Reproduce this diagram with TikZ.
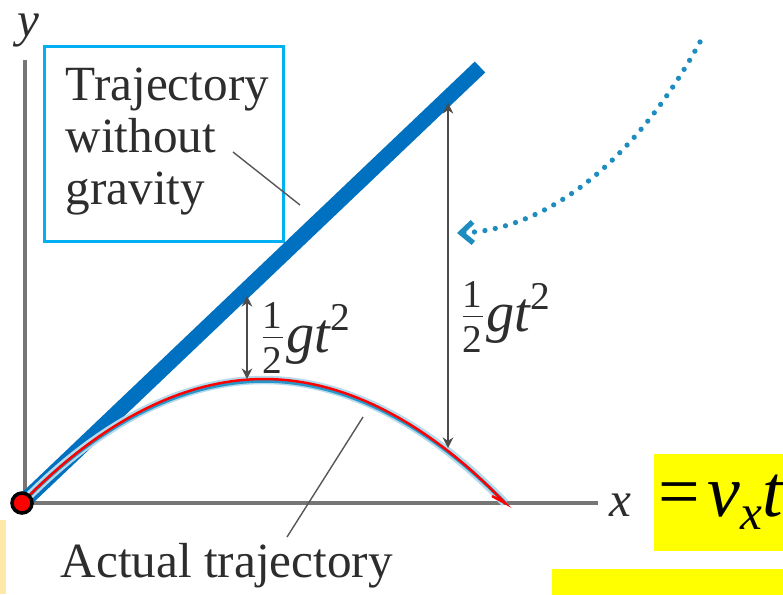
\documentclass[tikz,border=0pt]{standalone}
\usepackage{fontspec}
\setmainfont{Liberation Serif}
\usepackage{tikz}
\usetikzlibrary{positioning,arrows.meta}
\definecolor{cLine}{RGB}{0,112,192}
\definecolor{cBox}{RGB}{0,176,240}
\definecolor{cAxis}{RGB}{118,118,118}
\definecolor{cGlow}{RGB}{40,150,200}
\definecolor{cDot}{RGB}{30,140,190}
\definecolor{cText}{RGB}{45,45,45}
\definecolor{cHi}{RGB}{255,255,0}
\definecolor{cCream}{RGB}{255,232,170}
\newcommand{\halfgt}{\frac{\mathrm{1}}{\mathrm{2}}\mathit{g}\mathit{t}^{\mathrm{2}}}

\begin{document}
\begin{tikzpicture}[x=0.01cm,y=-0.01cm,font=\fontsize{14}{14.8}\selectfont,text=cText,
   axis/.style={draw=cAxis,line width=0.9pt},
   lead/.style={draw=cText!80,line width=0.4pt},
   dim/.style={draw=cText!85,line width=0.45pt,{Stealth[length=3pt,width=3pt]}-{Stealth[length=3pt,width=3pt]}},
   lbl/.style={inner sep=0pt},
   hi/.style={fill=cHi,inner sep=0pt}]
  \useasboundingbox (0,0) rectangle (783,594);
  \coordinate (O) at (22,503);
  \coordinate (yb) at (25,503);
  \coordinate (yt) at (25,60);
  \coordinate (xe) at (598,503);
  \coordinate (L) at (480,67);
  \coordinate (P) at (505,503);
  % axes
  \draw[axis] (yb) -- (yt);
  \draw[axis] (O) -- (xe);
  \node[lbl,font=\fontsize{14}{14}\selectfont\itshape] (ylab) at (28,31) {y};
  \node[lbl,font=\fontsize{14}{14}\selectfont\itshape] (xlab) at (620,505) {x};
  % trajectory without gravity
  \node[draw=cBox,line width=0.85pt,minimum width=2.39cm,minimum height=1.95cm,inner sep=0pt,anchor=north west] (gbox) at (43,45) {};
  \node[lbl,align=left,anchor=north west] (nograv) at (65,67) {Trajectory\\without\\gravity};
  \coordinate (w1) at (233,152);
  \coordinate (w2) at (300,205);
  \draw[lead] (w1) -- (w2);
  \draw[line width=4.3pt,cLine] (O) -- (L);
  % actual trajectory
  \draw[cGlow!35,line width=2.4pt] (O) parabola bend (264,380) (P);
  \draw[cGlow,line width=1pt] (O) parabola bend (264,381) (P);
  \draw[red,line width=0.7pt] (O) parabola bend (264,379) (P) -- (492,496);
  \node[circle,draw=black,fill=red,line width=1pt,minimum size=0.2cm,inner sep=0pt] (odot) at (O) {};
  % drops
  \coordinate (d1t) at (247,296);
  \coordinate (d1b) at (247,379);
  \coordinate (d2t) at (448,103);
  \coordinate (d2b) at (448,448);
  \draw[dim] (d1t) -- (d1b);
  \draw[dim] (d2t) -- (d2b);
  \node[lbl,anchor=west,font=\fontsize{16}{16}\selectfont] (h1) at (258,338) {$\halfgt$};
  \node[lbl,anchor=west,font=\fontsize{16}{16}\selectfont] (h2) at (458,317) {$\halfgt$};
  \node[lbl,anchor=base west] (act) at (60,577) {Actual trajectory};
  \coordinate (a1) at (363,417);
  \coordinate (a2) at (287,537);
  \draw[lead] (a1) -- (a2);
  % dotted pointer
  \coordinate (p1) at (700,42);
  \coordinate (p2) at (457,233);
  \draw[cDot,line width=1.5pt,line cap=round,dash pattern=on 0pt off 3pt,-{Straight Barb[length=3.4pt,width=6pt]}] (p1) .. controls (630,170) and (540,230) .. (p2);
  % highlights
  \node[hi,minimum width=1.3cm,minimum height=0.97cm,anchor=north west] (eqbox) at (653,453) {};
  \node[lbl,text=black,font=\fontsize{21}{21}\selectfont,anchor=west] (eq) at ([xshift=0.05cm]eqbox.west) {=\hspace{0.1em}\textit{v}\raisebox{-0.4ex}{\fontsize{14}{14}\selectfont\textit{x}}\textit{t}};
  \node[hi,minimum width=2.32cm,minimum height=0.26cm,anchor=north west] (bar) at (551,568) {};
  \fill[cCream] (0,520) rectangle (6,594);
\end{tikzpicture}
\end{document}
